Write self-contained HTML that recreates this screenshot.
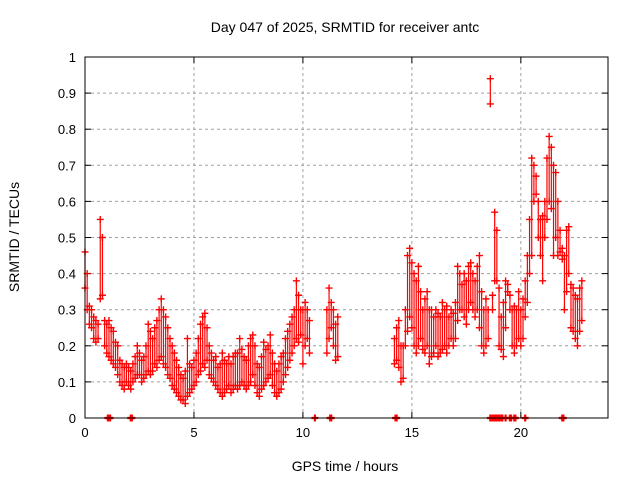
<!DOCTYPE html>
<html><head><meta charset="utf-8"><style>
body{margin:0;background:#fff}
svg{font-family:"Liberation Sans",sans-serif}
</style></head><body>
<svg id="chart" width="640" height="480" viewBox="0 0 640 480" xmlns="http://www.w3.org/2000/svg">
<text x="345" y="32" font-size="14" text-anchor="middle">Day 047 of 2025, SRMTID for receiver antc</text>
<text x="345" y="471" font-size="14" text-anchor="middle">GPS time / hours</text>
<text transform="translate(19,237) rotate(-90)" font-size="14" text-anchor="middle">SRMTID / TECUs</text>
<g id="grid"></g>
<g id="ticks"></g>
<g id="marks"></g>
<rect x="85" y="57" width="523" height="361" fill="none" stroke="#000" stroke-width="1"/>
</svg>
<script>
const xTicks=[0,5,10,15,20];
const yTicks=[0,0.1,0.2,0.3,0.4,0.5,0.6,0.7,0.8,0.9,1];
const yTickLabels=["0","0.1","0.2","0.3","0.4","0.5","0.6","0.7","0.8","0.9","1"];
const segStarts=[0.0,11.1,14.2];
const segLo=[
[0.36,0.3,0.26,0.25,0.22,0.21,0.22,0.33,0.34,0.2,
0.18,0.17,0.16,0.15,0.14,0.12,0.1,0.09,0.08,0.1,
0.09,0.08,0.1,0.11,0.12,0.12,0.1,0.11,0.12,0.13,
0.12,0.13,0.15,0.14,0.16,0.17,0.15,0.14,0.12,0.11,
0.09,0.08,0.07,0.06,0.05,0.05,0.04,0.06,0.07,0.08,
0.09,0.1,0.12,0.13,0.15,0.14,0.16,0.12,0.11,0.1,
0.09,0.08,0.07,0.06,0.07,0.08,0.09,0.07,0.08,0.09,
0.08,0.09,0.1,0.09,0.08,0.09,0.1,0.12,0.09,0.07,
0.06,0.08,0.09,0.1,0.11,0.12,0.09,0.07,0.06,0.07,
0.08,0.1,0.12,0.14,0.16,0.18,0.2,0.22,0.21,0.23,
0.15,0.2,0.22,0.18],
[0.18,0.22,0.25,0.2,0.16,0.17],
[0.15,0.16,0.14,0.1,0.11,0.2,0.24,0.28,
0.25,0.2,0.18,0.2,0.22,0.19,0.18,0.2,0.15,0.17,
0.18,0.2,0.17,0.18,0.19,0.2,0.18,0.2,0.22,0.2,
0.22,0.27,0.3,0.3,0.28,0.26,0.3,0.32,0.3,0.28,
0.3,0.25,0.2,0.18,0.2,0.22,0.87,0.3,0.38,0.38,
0.2,0.19,0.17,0.25,0.35,0.3,0.2,0.18,0.2,0.22,
0.2,0.22,0.28,0.32,0.4,0.45,0.6,0.62,0.5,0.45,
0.38,0.5,0.55,0.6,0.58,0.45,0.5,0.45,0.46,0.44,
0.3,0.35,0.4,0.25,0.24,0.22,0.2,0.24,0.27]];
const segHi=[
[0.46,0.4,0.31,0.3,0.28,0.27,0.26,0.55,0.5,0.27,
0.26,0.27,0.25,0.24,0.21,0.2,0.16,0.15,0.14,0.15,
0.14,0.13,0.15,0.17,0.2,0.18,0.16,0.17,0.2,0.26,
0.24,0.22,0.25,0.27,0.3,0.33,0.3,0.28,0.25,0.22,
0.2,0.18,0.16,0.14,0.12,0.11,0.13,0.22,0.15,0.14,
0.16,0.18,0.22,0.26,0.28,0.29,0.25,0.2,0.18,0.16,
0.17,0.14,0.15,0.18,0.16,0.15,0.17,0.15,0.17,0.18,
0.18,0.22,0.19,0.17,0.16,0.2,0.22,0.23,0.2,0.15,
0.14,0.17,0.21,0.19,0.2,0.23,0.18,0.15,0.13,0.15,
0.17,0.18,0.22,0.24,0.26,0.28,0.3,0.38,0.34,0.3,
0.3,0.32,0.3,0.27],
[0.3,0.36,0.32,0.3,0.26,0.28],
[0.22,0.25,0.27,0.2,0.2,0.3,0.45,0.47,
0.43,0.4,0.38,0.42,0.35,0.3,0.33,0.35,0.3,0.3,
0.28,0.3,0.29,0.28,0.32,0.3,0.31,0.28,0.3,0.29,
0.32,0.42,0.4,0.37,0.4,0.38,0.42,0.43,0.4,0.38,
0.42,0.45,0.35,0.3,0.33,0.3,0.94,0.34,0.57,0.52,
0.36,0.28,0.32,0.38,0.37,0.34,0.3,0.31,0.3,0.35,
0.3,0.33,0.38,0.45,0.55,0.72,0.7,0.67,0.6,0.55,
0.56,0.6,0.72,0.78,0.75,0.7,0.68,0.6,0.52,0.47,
0.45,0.52,0.53,0.37,0.36,0.34,0.33,0.36,0.38]];
const zeroTimes=[1.05,1.1,1.15,2.1,2.15,10.55,11.25,11.3,14.25,14.3,18.6,18.7,18.8,18.85,18.9,19.0,19.1,19.15,19.3,19.5,19.55,19.7,19.75,20.2,21.9,21.95];

const X0=85,X1=608,Y0=418,Y1=57;
const xs=h=>X0+h/24*(X1-X0);
const ys=v=>Y0-v*(Y0-Y1);
const NS="http://www.w3.org/2000/svg";
function mk(tag,attrs,parent){const e=document.createElementNS(NS,tag);for(const k in attrs)e.setAttribute(k,attrs[k]);parent.appendChild(e);return e;}
const grid=document.getElementById('grid'),ticks=document.getElementById('ticks'),marks=document.getElementById('marks');
xTicks.forEach(t=>{const x=xs(t);
 if(t>0){const l=mk('line',{x1:x,y1:Y0,x2:x,y2:Y1,stroke:'#a0a0a0','stroke-dasharray':'3,3'},grid);
 }
 mk('line',{x1:x,y1:Y0,x2:x,y2:Y0-6,stroke:'#000'},ticks);mk('line',{x1:x,y1:Y1,x2:x,y2:Y1+6,stroke:'#000'},ticks);
 const tx=mk('text',{x:x,y:Y0+19,'font-size':13,'text-anchor':'middle'},ticks);tx.textContent=t;
 });
yTicks.forEach((t,i)=>{const y=ys(t);
 if(t>0&&t<1){const l=mk('line',{x1:X0,y1:y,x2:X1,y2:y,stroke:'#a0a0a0','stroke-dasharray':'3,3'},grid);
 }
 mk('line',{x1:X0,y1:y,x2:X0+6,y2:y,stroke:'#000'},ticks);mk('line',{x1:X1,y1:y,x2:X1-6,y2:y,stroke:'#000'},ticks);
 const tx=mk('text',{x:X0-9,y:y+5,'font-size':13,'text-anchor':'end'},ticks);tx.textContent=yTickLabels[i];
 });
function plus(h,v,col,w){const x=xs(h),y=ys(v);
 const p=mk('path',{d:`M${x-3.5},${y}H${x+3.5}M${x},${y-3.5}V${y+3.5}`,stroke:col,'stroke-width':w,fill:'none'},marks);
 }
segStarts.forEach((s,si)=>{segLo[si].forEach((lo,i)=>{const h=s+i*0.1,hi=segHi[si][i];
 const r=mk('line',{x1:xs(h),y1:ys(lo),x2:xs(h),y2:ys(hi),stroke:'#f00','stroke-width':1.2},marks);
 
 plus(h,lo,'#f00',1.4);plus(h,hi,'#f00',1.4);});});
zeroTimes.forEach(h=>plus(h,0,'#f00',2.2));
</script>
</body></html>
